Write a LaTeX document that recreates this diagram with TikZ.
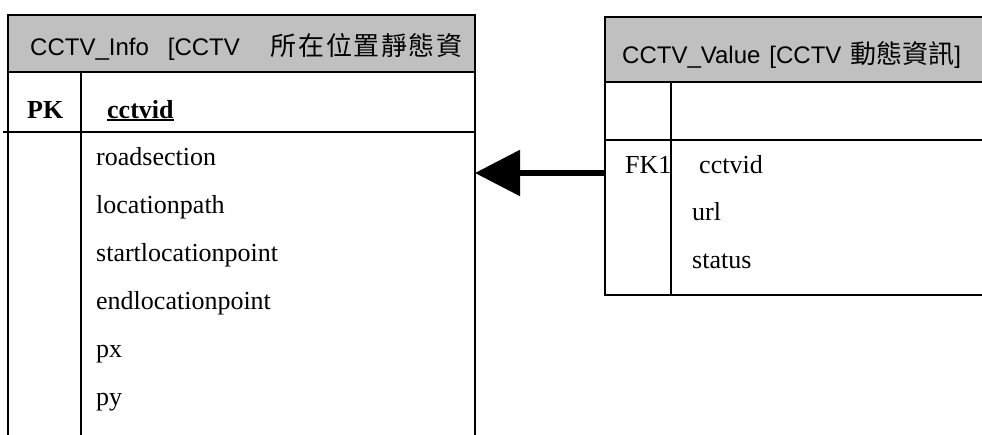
\documentclass[tikz,border=0pt]{standalone}
\usepackage{fontspec}
\setmainfont{Liberation Serif}
\newfontfamily\headfont{Liberation Sans}
\newfontfamily\cjk{Noto Sans CJK TC}
\newfontfamily\cjkwide[LetterSpace=6]{Noto Sans CJK TC}
\usetikzlibrary{positioning,arrows.meta}
\definecolor{headgray}{RGB}{192,192,192}

\begin{document}
\begin{tikzpicture}[x=1pt, y=-1pt]
    \tikzstyle{tblbox} = [ shape=rectangle, draw=black, line width=1.6pt, inner sep=0pt, outer sep=0pt ];
    \tikzstyle{tblhead} = [ tblbox, fill=headgray ];
    \tikzstyle{tblrule} = [ draw=black, line width=1.6pt ];
    \tikzstyle{tbltitle} = [ anchor=base west, inner sep=0pt, font=\headfont\fontsize{24}{28}\selectfont ];
    \tikzstyle{tblfield} = [ anchor=base west, inner sep=0pt, font=\fontsize{26}{30}\selectfont ];
    \tikzstyle{arr} = [ -{Triangle[length=45pt, width=45pt]}, line width=5.5pt ];

    \useasboundingbox (0,0) rectangle (982,434);
    \clip (0,0) rectangle (982,434);

    % CCTV_Info
    \node (nInfoHead) [tblhead, anchor=north west, minimum width=467pt, minimum height=57pt] at (8,15) {};
    \node (nInfoBody) [tblbox, below=0pt of nInfoHead, minimum width=467pt, minimum height=400pt] {};
    \node (nInfoTitle) [tbltitle] at (30,55) {CCTV\_Info\hspace{19pt}[CCTV\hspace{31pt}{\cjkwide\fontsize{26}{28}\selectfont 所在位置靜態資}};
    \coordinate (cPkLeft) at (3,132);
    \draw [tblrule] (cPkLeft) -- (cPkLeft -| nInfoBody.east);
    \draw [tblrule] ([xshift=73pt]nInfoBody.north west) -- ([xshift=73pt]nInfoBody.south west);
    \node (nPk) [tblfield] at (27,118) {\textbf{PK}};
    \node (nPkName) [tblfield] at (107,118) {\textbf{cctvid}};
    \draw [line width=2.4pt] ([yshift=-2pt]nPkName.base west) -- ([yshift=-2pt]nPkName.base east);
    \foreach \fname [count=\i] in {roadsection, locationpath, startlocationpoint, endlocationpoint, px, py}
        \node (nInfoField\i) [tblfield] at (96, 117+48*\i) {\fname};

    % CCTV_Value
    \node (nValueHead) [tblhead, anchor=north west, minimum width=420pt, minimum height=65pt] at (605,17) {};
    \node (nValueBody) [tblbox, below=0pt of nValueHead, minimum width=420pt, minimum height=213pt] {};
    \node (nValueTitle) [tbltitle] at (622,63) {CCTV\_Value\hspace{9pt}[CCTV\hspace{9pt}{\cjk\fontsize{26}{28}\selectfont 動態資訊}]};
    \draw [tblrule] (nValueBody.west |- 0,140) -- (nValueBody.east |- 0,140);
    \draw [tblrule] ([xshift=66pt]nValueBody.north west) -- ([xshift=66pt]nValueBody.south west);
    \node (nFk) [tblfield] at (625,173) {FK1};
    \node (nFkName) [tblfield] at (699,173) {cctvid};
    \node (nValueField1) [tblfield] at (692,220) {url};
    \node (nValueField2) [tblfield] at (692,268) {status};

    \draw [arr] (nValueBody.west |- nFk.base) -- (nInfoBody.east |- nFk.base);
\end{tikzpicture}
\end{document}
